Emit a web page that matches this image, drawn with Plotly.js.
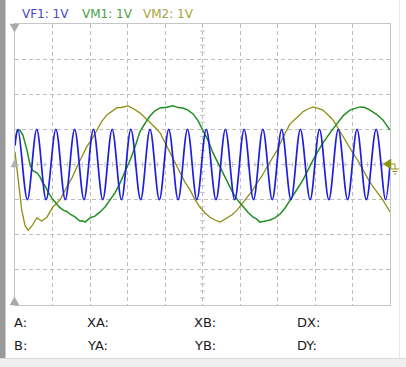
<!DOCTYPE html>
<html>
<head>
<meta charset="utf-8">
<script src="https://cdn.plot.ly/plotly-3.0.1.min.js"></script>
<style>
html,body{margin:0;padding:0;background:#ffffff;}
#wrap{position:relative;width:406px;height:367px;overflow:hidden;background:#ffffff;}
#lbar{position:absolute;left:0;top:0;width:5px;height:358px;background:#9a9a9a;border-right:1px solid #c8c8c8;}
#bstrip{position:absolute;left:0;top:358px;width:406px;height:9px;background:#efefef;border-top:1px solid #dadada;}
#rline{position:absolute;left:399px;top:0;width:1px;height:358px;background:#e6e6e6;}
#chart{position:absolute;left:0;top:0;width:406px;height:367px;}
</style>
</head>
<body>
<div id="wrap">
<div id="lbar"></div>
<div id="rline"></div>
<div id="bstrip"></div>
<div id="chart"></div>
</div>
<script>
// Channel labels
var channelNames = ["VF1: 1V", "VM1: 1V", "VM2: 1V"];
var channelColors = ["#1e1ee0", "#1f8f1f", "#8f8f14"];
var legendColors = ["#4646d2", "#48a048", "#a4a440"];
var cursorLabels = ["A:", "B:", "XA:", "YA:", "XB:", "YB:", "DX:", "DY:"];

// VF1 (blue): times of peaks (+1 V) and troughs (-1 V), in divisions
var vf1PeakT = [0.08, 0.58, 1.09, 1.59, 2.09, 2.59, 3.09, 3.60, 4.10, 4.60, 5.10, 5.61, 6.11, 6.61, 7.11, 7.61, 8.12, 8.62, 9.12, 9.63];
var vf1TroughT = [0.33, 0.83, 1.34, 1.84, 2.34, 2.84, 3.35, 3.85, 4.35, 4.85, 5.36, 5.86, 6.36, 6.86, 7.36, 7.87, 8.37, 8.87, 9.37, 9.88];
var vf1Peak = 1.0, vf1Trough = -1.0;
var vf1StartT = 0, vf1Start = 0.54, vf1EndT = 10, vf1End = 0.0;

// VM1 (green)
var vm1T = [0, 0.05, 0.13, 0.21, 0.32, 0.40, 0.47, 0.53, 0.60, 0.67, 0.73, 0.80, 0.87, 0.93, 1.00, 1.07, 1.17, 1.28, 1.37, 1.47, 1.60, 1.73, 1.80, 1.87, 1.93, 2.00, 2.13, 2.27, 2.40, 2.53, 2.67, 2.80, 2.93, 3.07, 3.20, 3.33, 3.47, 3.60, 3.73, 3.87, 4.04, 4.21, 4.35, 4.48, 4.61, 4.75, 4.88, 5.01, 5.15, 5.28, 5.41, 5.55, 5.68, 5.81, 5.95, 6.08, 6.21, 6.35, 6.44, 6.53, 6.67, 6.80, 6.93, 7.07, 7.20, 7.33, 7.50, 7.68, 7.81, 7.95, 8.08, 8.21, 8.40, 8.59, 8.76, 8.93, 9.07, 9.20, 9.33, 9.47, 9.64, 9.81, 10.0];
var vm1V = [0.70, 0.95, 0.98, 0.84, 0.41, -0.01, -0.17, -0.21, -0.25, -0.36, -0.50, -0.61, -0.76, -0.87, -0.98, -1.07, -1.20, -1.30, -1.33, -1.41, -1.49, -1.61, -1.60, -1.64, -1.58, -1.52, -1.47, -1.35, -1.21, -1.01, -0.80, -0.53, -0.23, 0.13, 0.50, 0.93, 1.18, 1.38, 1.53, 1.61, 1.63, 1.67, 1.62, 1.61, 1.55, 1.44, 1.25, 0.98, 0.68, 0.33, 0.04, -0.24, -0.52, -0.81, -1.03, -1.21, -1.36, -1.50, -1.55, -1.64, -1.60, -1.58, -1.52, -1.41, -1.24, -1.01, -0.74, -0.44, -0.15, 0.13, 0.38, 0.61, 0.90, 1.18, 1.40, 1.55, 1.60, 1.64, 1.62, 1.55, 1.43, 1.27, 0.98];

// VM2 (olive)
var vm2T = [0, 0.05, 0.11, 0.18, 0.27, 0.35, 0.45, 0.58, 0.71, 0.85, 1.01, 1.20, 1.38, 1.52, 1.65, 1.78, 1.91, 2.05, 2.18, 2.31, 2.45, 2.58, 2.71, 2.86, 3.01, 3.17, 3.33, 3.47, 3.60, 3.73, 3.87, 4.00, 4.13, 4.27, 4.40, 4.53, 4.67, 4.80, 4.93, 5.07, 5.20, 5.33, 5.47, 5.65, 5.79, 5.92, 6.05, 6.19, 6.32, 6.45, 6.59, 6.72, 6.85, 6.99, 7.16, 7.33, 7.51, 7.68, 7.81, 7.95, 8.08, 8.21, 8.35, 8.48, 8.61, 8.75, 8.88, 9.01, 9.15, 9.28, 9.41, 9.55, 9.68, 9.81, 10.0];
var vm2V = [0.36, -0.16, -0.73, -1.30, -1.75, -1.87, -1.75, -1.52, -1.61, -1.50, -1.21, -1.01, -0.64, -0.38, -0.07, 0.22, 0.50, 0.72, 0.98, 1.22, 1.41, 1.52, 1.61, 1.63, 1.67, 1.58, 1.47, 1.33, 1.18, 1.06, 0.90, 0.62, 0.33, 0.03, -0.24, -0.50, -0.73, -1.00, -1.21, -1.38, -1.50, -1.58, -1.64, -1.52, -1.43, -1.30, -1.12, -0.93, -0.76, -0.53, -0.32, -0.07, 0.18, 0.41, 0.80, 1.15, 1.33, 1.50, 1.58, 1.64, 1.60, 1.55, 1.41, 1.27, 1.04, 0.78, 0.55, 0.33, 0.10, -0.16, -0.40, -0.64, -0.82, -1.01, -1.35];

// build VF1 series from the read extrema
var vf1 = [[vf1StartT, vf1Start]];
for (var i = 0; i < vf1PeakT.length; i++) {
  vf1.push([vf1PeakT[i], vf1Peak]);
  vf1.push([vf1TroughT[i], vf1Trough]);
}
vf1.push([vf1EndT, vf1End]);
vf1.sort(function(a,b){return a[0]-b[0];});
var vf1T = vf1.map(function(p){return p[0];});
var vf1V = vf1.map(function(p){return p[1];});

var traces = [
  {x: vm2T, y: vm2V, type: 'scatter', mode: 'lines', line: {color: channelColors[2], width: 1.3, shape: 'linear'}, hoverinfo: 'skip'},
  {x: vm1T, y: vm1V, type: 'scatter', mode: 'lines', line: {color: channelColors[1], width: 1.5, shape: 'linear'}, hoverinfo: 'skip'},
  {x: vf1T, y: vf1V, type: 'scatter', mode: 'lines', line: {color: channelColors[0], width: 1.7, shape: 'spline', smoothing: 1.0}, hoverinfo: 'skip'}
];

// pixel -> paper helpers (plot area 15..390 x 24..305)
function PX(px){return (px-15)/375;}
function PY(py){return (305-py)/281;}
function poly(pts, color){
  var d = 'M ' + pts.map(function(p){return PX(p[0]) + ',' + PY(p[1]);}).join(' L ') + ' Z';
  return {type:'path', xref:'paper', yref:'paper', path:d, fillcolor:color, line:{color:color, width:0.5}, layer:'above'};
}
function seg(x0,y0,x1,y1,color){
  return {type:'line', xref:'paper', yref:'paper', x0:PX(x0), y0:PY(y0), x1:PX(x1), y1:PY(y1), line:{color:color, width:1}, layer:'above'};
}

var shapes = [];
// minor ticks on the centre lines
for (var k = -20; k <= 20; k++) {
  if (k % 5 === 0) continue;
  var yv = k * 0.2;
  shapes.push({type:'line', xref:'x', yref:'y', x0:4.93, x1:5.07, y0:yv, y1:yv, line:{color:'#c4c4c4', width:1}, layer:'below'});
}
for (var k2 = 1; k2 < 50; k2++) {
  if (k2 % 5 === 0) continue;
  var xv = k2 * 0.2;
  shapes.push({type:'line', xref:'x', yref:'y', x0:xv, x1:xv, y0:-0.07, y1:0.07, line:{color:'#c4c4c4', width:1}, layer:'below'});
}
// gray markers on the left edge
shapes.push(poly([[10,24],[19,24],[14.5,32]], '#a8a8a8'));
shapes.push(poly([[10,305],[19,305],[14.5,297]], '#a8a8a8'));
shapes.push(poly([[11,167],[18,167],[14.5,160]], '#b0b0b0'));
// olive ground marker on the right edge
shapes.push(poly([[383,164],[391,159],[391,169]], '#8f8f14'));
shapes.push(seg(391,164,395,164,'#8f8f14'));
shapes.push(seg(395,164,395,169,'#8f8f14'));
shapes.push(seg(391,169,399,169,'#8f8f14'));
shapes.push(seg(392.5,171.5,397.5,171.5,'#8f8f14'));
shapes.push(seg(394,174,396,174,'#8f8f14'));

var annotations = [];
var legX = [21, 81, 141.5];
for (var c = 0; c < 3; c++) {
  annotations.push({xref:'paper', yref:'paper', x:PX(legX[c]), y:PY(14.5), xanchor:'left', yanchor:'middle', showarrow:false, text:channelNames[c], font:{family:'DejaVu Sans, Verdana, sans-serif', size:12, color:legendColors[c]}, borderpad:0});
}
var labX = [13, 13, 86, 86, 193, 193, 296, 296];
var labY = [322.5, 345, 322.5, 345, 322.5, 345, 322.5, 345];
for (var j = 0; j < cursorLabels.length; j++) {
  annotations.push({xref:'paper', yref:'paper', x:PX(labX[j]), y:PY(labY[j]), xanchor:'left', yanchor:'middle', showarrow:false, text:cursorLabels[j], font:{family:'DejaVu Sans, Verdana, sans-serif', size:13, color:'#1a1a1a'}, borderpad:0});
}

var axisCommon = {showgrid:true, gridcolor:'#bcbcbc', gridwidth:1, griddash:'4px,3px', zeroline:false, showline:true, mirror:true, linecolor:'#c6c6c6', linewidth:1, showticklabels:false, ticks:'', fixedrange:true};
var layout = {
  width:406, height:367,
  margin:{l:15, r:16, t:24, b:62, pad:0},
  paper_bgcolor:'rgba(0,0,0,0)', plot_bgcolor:'#ffffff',
  showlegend:false,
  xaxis: Object.assign({range:[0,10], dtick:1, tick0:0}, axisCommon),
  yaxis: Object.assign({range:[-4,4], dtick:1, tick0:0}, axisCommon),
  shapes: shapes,
  annotations: annotations
};
Plotly.newPlot('chart', traces, layout, {displayModeBar:false, staticPlot:true});
</script>
</body>
</html>
